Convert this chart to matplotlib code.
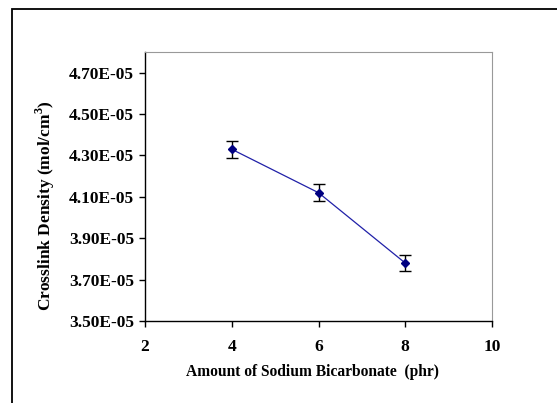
import matplotlib
matplotlib.use('Agg')
import matplotlib.pyplot as plt
from matplotlib.patches import Rectangle
from matplotlib.ticker import FuncFormatter

# data
amount = [4, 6, 8]
density = [4.33e-05, 4.12e-05, 3.78e-05]
errors = [0.04e-05, 0.04e-05, 0.04e-05]
yticks = [3.5e-05, 3.7e-05, 3.9e-05, 4.1e-05, 4.3e-05, 4.5e-05, 4.7e-05]
xticks = [2, 4, 6, 8, 10]

plt.rcParams['font.family'] = 'Liberation Serif'
plt.rcParams['font.weight'] = 'bold'
plt.rcParams['mathtext.fontset'] = 'custom'
plt.rcParams['mathtext.rm'] = 'Liberation Serif:bold'
plt.rcParams['mathtext.bf'] = 'Liberation Serif:bold'

fig = plt.figure(figsize=(5.57, 4.03), dpi=100)
W, H = 557, 403
ax = fig.add_axes([145 / W, 1 - 321 / H, (492 - 145) / W, (321 - 52) / H])

# outer chart border (only the left and top edges are inside the picture)
fig.patches.append(Rectangle((12 / W, -0.05), 1.2, 1 - 9 / H + 0.05,
                             transform=fig.transFigure, fill=False,
                             edgecolor='black', linewidth=1.3))

ax.errorbar(amount, density, yerr=errors, color='#000080', marker='D',
            markersize=4.5, linestyle='none', ecolor='black', elinewidth=1,
            capsize=4, capthick=1, zorder=3)
ax.plot(amount, density, color='#2020a8', linewidth=0.9, zorder=2)

ax.set_xlim(2, 10)
ax.set_ylim(3.5e-05, 4.8e-05)
ax.set_xticks(xticks)
ax.set_yticks(yticks)
ax.yaxis.set_major_formatter(FuncFormatter(lambda v, p: ('%.2E' % v)))
ax.tick_params(direction='out', length=4, width=1, labelsize=12.5, pad=4)
ax.tick_params(axis='x', pad=9)

ax.spines['top'].set_color('#999999')
ax.spines['right'].set_color('#999999')
ax.spines['left'].set_linewidth(1)
ax.spines['bottom'].set_linewidth(1)

ax.set_xlabel('Amount of Sodium Bicarbonate  (phr)', fontsize=11.2, fontweight='bold')
ax.set_ylabel('Crosslink Density (mol/cm$^{3}$)', fontsize=12.5, fontweight='bold')
ax.xaxis.label.set_va('center')
ax.yaxis.label.set_va('center')
ax.xaxis.set_label_coords(0.483, -0.19)
ax.yaxis.set_label_coords(-0.288, 0.427)

fig.savefig('out.png', dpi=100)
